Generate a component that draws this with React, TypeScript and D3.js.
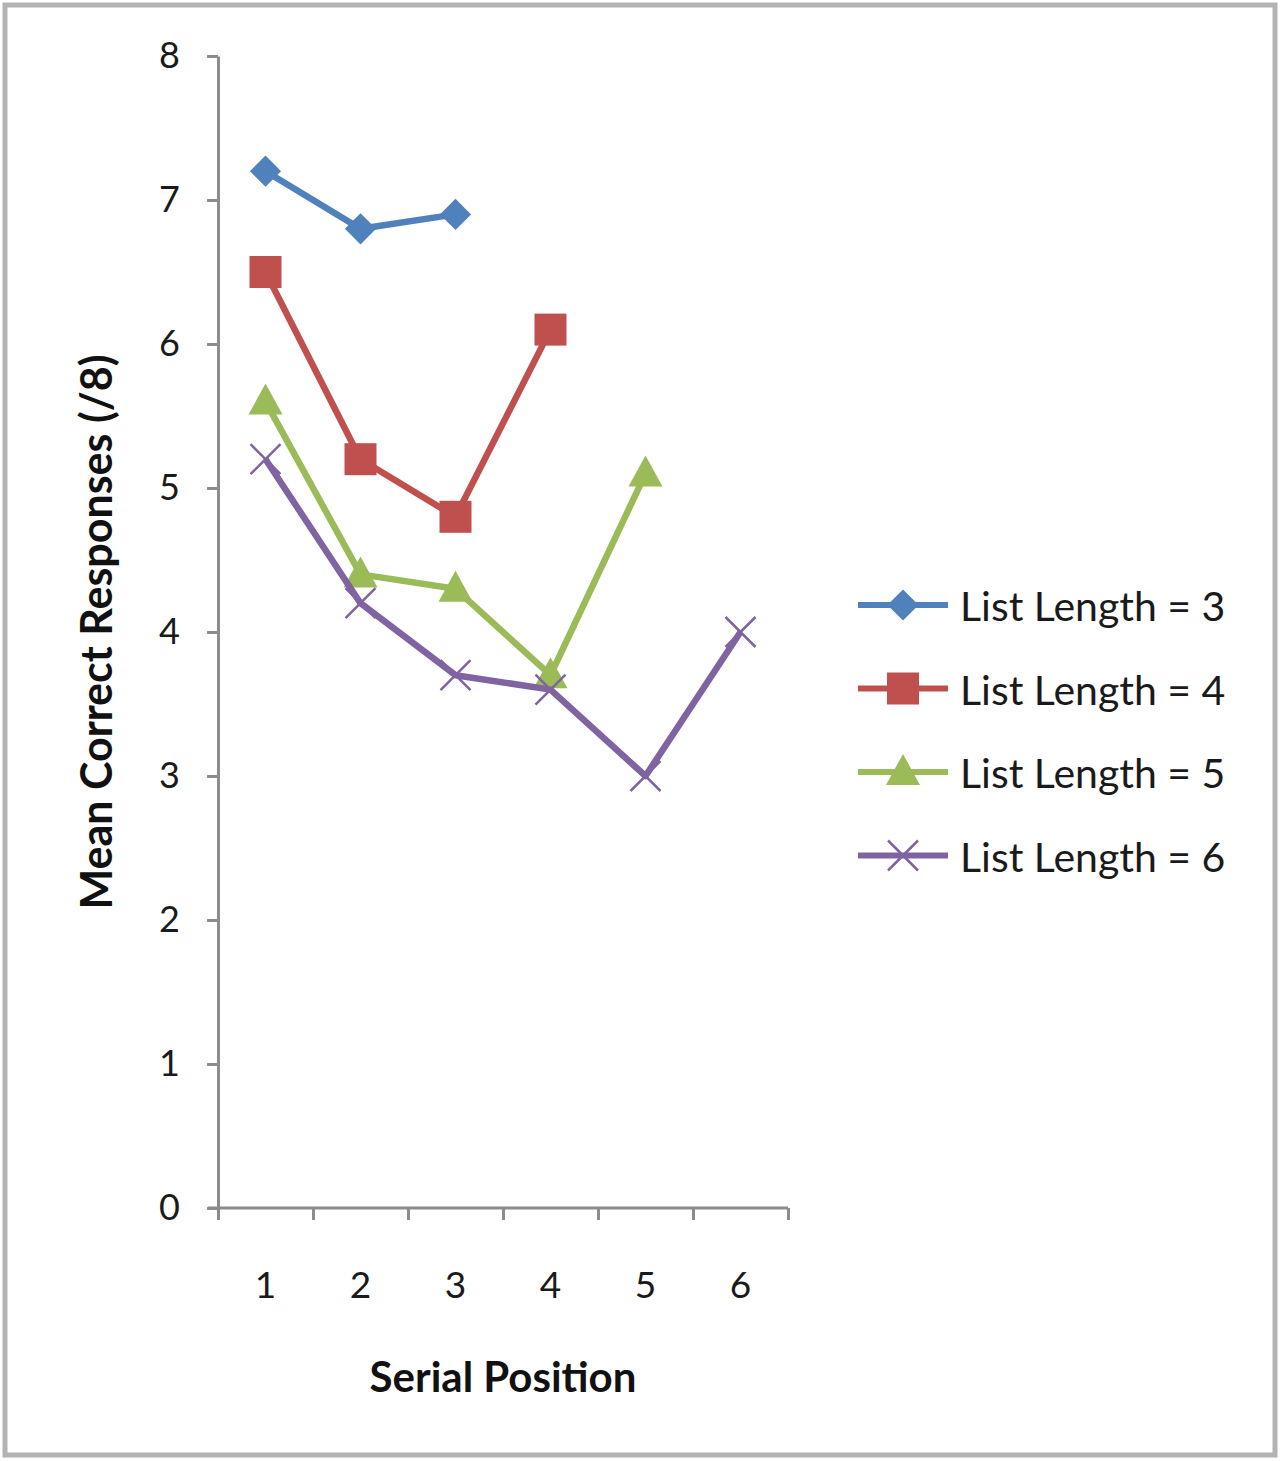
import React, { useEffect, useRef } from "react";
import * as d3 from "d3";

// serial positions on the x axis
const positions = ["1", "2", "3", "4", "5", "6"];
const yTicks = [0, 1, 2, 3, 4, 5, 6, 7, 8];

// mean correct responses per list length
const listLength3 = [7.2, 6.8, 6.9];
const listLength4 = [6.5, 5.2, 4.8, 6.1];
const listLength5 = [5.6, 4.4, 4.3, 3.7, 5.1];
const listLength6 = [5.2, 4.2, 3.7, 3.6, 3.0, 4.0];

const seriesNames = ["List Length = 3", "List Length = 4", "List Length = 5", "List Length = 6"];
const seriesValues = [listLength3, listLength4, listLength5, listLength6];
const colors = ["#4F81BD", "#C0504D", "#9BBB59", "#8064A2"];
const markers = ["diamond", "square", "triangle", "cross"];

const W = 1280;
const H = 1461;
const FONT = "Lato, 'DejaVu Sans', sans-serif";

function drawMarker(g, kind, x, y, color) {
  if (kind === "diamond") {
    g.append("path")
      .attr("d", d3.symbol(d3.symbolDiamond2, 620)())
      .attr("transform", `translate(${x},${y})`)
      .attr("fill", color);
  } else if (kind === "square") {
    g.append("rect")
      .attr("x", x - 16).attr("y", y - 16)
      .attr("width", 32).attr("height", 32)
      .attr("fill", color);
  } else if (kind === "triangle") {
    g.append("path")
      .attr("d", `M${x},${y - 18}L${x + 17},${y + 13}L${x - 17},${y + 13}Z`)
      .attr("fill", color);
  } else {
    g.append("path")
      .attr("d", `M${x - 15},${y - 15}L${x + 15},${y + 15}M${x - 15},${y + 15}L${x + 15},${y - 15}`)
      .attr("stroke", color)
      .attr("stroke-width", 2.5)
      .attr("fill", "none");
  }
}

export default function App() {
  const svgRef = useRef(null);

  useEffect(() => {
    const svg = d3.select(svgRef.current);
    svg.selectAll("*").remove();

    // outer frame
    svg.append("rect")
      .attr("x", 5).attr("y", 5)
      .attr("width", W - 10).attr("height", H - 11)
      .attr("fill", "white")
      .attr("stroke", "#b3b3b3")
      .attr("stroke-width", 5);

    const x = d3.scalePoint().domain(positions).range([218, 788]).padding(0.5);
    const xEdges = d3.scaleLinear().domain([0, positions.length]).range([218, 788]);
    const y = d3.scaleLinear().domain([0, 8]).range([1208, 56]);

    // y axis
    const yAxis = svg.append("g")
      .attr("transform", "translate(218,0)")
      .call(d3.axisLeft(y).tickValues(yTicks).tickSizeInner(11).tickSizeOuter(0).tickPadding(27));
    yAxis.select(".domain").attr("stroke", "#8c8c8c").attr("stroke-width", 3);
    yAxis.selectAll(".tick line").attr("stroke", "#8c8c8c").attr("stroke-width", 3);
    yAxis.selectAll(".tick text")
      .attr("font-family", FONT).attr("font-size", 36).attr("fill", "#1a1a1a");

    // x axis: ticks between categories
    const xAxis = svg.append("g")
      .attr("transform", "translate(0,1208)")
      .call(d3.axisBottom(xEdges).ticks(positions.length).tickFormat(() => "").tickSizeInner(12).tickSizeOuter(0));
    xAxis.select(".domain").attr("stroke", "#8c8c8c").attr("stroke-width", 3).attr("d", "M208,0H788");
    xAxis.selectAll(".tick line").attr("stroke", "#8c8c8c").attr("stroke-width", 3);

    svg.append("g")
      .selectAll("text")
      .data(positions)
      .join("text")
      .attr("x", (d) => x(d))
      .attr("y", 1298)
      .attr("text-anchor", "middle")
      .attr("font-family", FONT)
      .attr("font-size", 37)
      .attr("fill", "#1a1a1a")
      .text((d) => d);

    // axis titles
    svg.append("text")
      .attr("x", 503).attr("y", 1392)
      .attr("text-anchor", "middle")
      .attr("font-family", FONT).attr("font-weight", "bold").attr("font-size", 42)
      .attr("fill", "#111")
      .text("Serial Position");

    svg.append("text")
      .attr("transform", "translate(112,632) rotate(-90)")
      .attr("text-anchor", "middle")
      .attr("font-family", FONT).attr("font-weight", "bold").attr("font-size", 43)
      .attr("fill", "#111")
      .text("Mean Correct Responses (/8)");

    // series
    const line = d3.line().x((d, i) => x(positions[i])).y((d) => y(d));
    seriesValues.forEach((vals, s) => {
      const g = svg.append("g");
      g.append("path")
        .datum(vals)
        .attr("d", line)
        .attr("fill", "none")
        .attr("stroke", colors[s])
        .attr("stroke-width", 6.5)
        .attr("stroke-linejoin", "round");
      vals.forEach((v, i) => drawMarker(g, markers[s], x(positions[i]), y(v), colors[s]));
    });

    // legend
    const legend = svg.append("g");
    seriesNames.forEach((name, s) => {
      const ly = 605 + s * 83.5;
      legend.append("line")
        .attr("x1", 858).attr("x2", 948)
        .attr("y1", ly).attr("y2", ly)
        .attr("stroke", colors[s])
        .attr("stroke-width", 6);
      drawMarker(legend, markers[s], 903, ly, colors[s]);
      legend.append("text")
        .attr("x", 960).attr("y", ly + 16)
        .attr("font-family", FONT).attr("font-size", 41)
        .attr("fill", "#1a1a1a")
        .text(name);
    });
  }, []);

  return (
    <svg
      ref={svgRef}
      width={W}
      height={H}
      style={{ position: "absolute", left: 0, top: 0, background: "white" }}
    />
  );
}
